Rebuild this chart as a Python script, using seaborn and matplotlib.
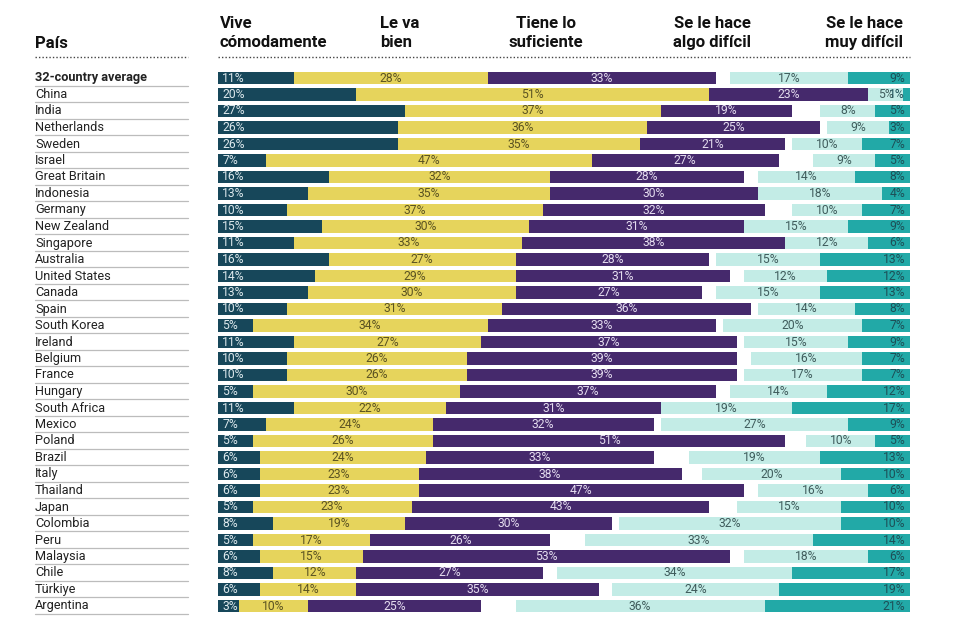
"""
Recreation: how people say they are coping financially, 32 countries.
"""
import matplotlib.pyplot as plt
import matplotlib.transforms as mtransforms
import pandas as pd
import seaborn as sns

countries = [
    "32-country average", "China", "India", "Netherlands", "Sweden", "Israel",
    "Great Britain", "Indonesia", "Germany", "New Zealand", "Singapore",
    "Australia", "United States", "Canada", "Spain", "South Korea", "Ireland",
    "Belgium", "France", "Hungary", "South Africa", "Mexico", "Poland",
    "Brazil", "Italy", "Thailand", "Japan", "Colombia", "Peru", "Malaysia",
    "Chile", "Türkiye", "Argentina",
]
comfortable = [11, 20, 27, 26, 26, 7, 16, 13, 10, 15, 11, 16, 14, 13, 10, 5, 11,
               10, 10, 5, 11, 7, 5, 6, 6, 6, 5, 8, 5, 6, 8, 6, 3]
doing_ok = [28, 51, 37, 36, 35, 47, 32, 35, 37, 30, 33, 27, 29, 30, 31, 34, 27,
            26, 26, 30, 22, 24, 26, 24, 23, 23, 23, 19, 17, 15, 12, 14, 10]
getting_by = [33, 23, 19, 25, 21, 27, 28, 30, 32, 31, 38, 28, 31, 27, 36, 33, 37,
              39, 39, 37, 31, 32, 51, 33, 38, 47, 43, 30, 26, 53, 27, 35, 25]
quite_hard = [17, 5, 8, 9, 10, 9, 14, 18, 10, 15, 12, 15, 12, 15, 14, 20, 15,
              16, 17, 14, 19, 27, 10, 19, 20, 16, 15, 32, 33, 18, 34, 24, 36]
very_hard = [9, 1, 5, 3, 7, 5, 8, 4, 7, 9, 6, 13, 12, 13, 8, 7, 9,
             7, 7, 12, 17, 9, 5, 13, 10, 6, 10, 10, 14, 6, 17, 19, 21]

headers = ["Vive\ncómodamente", "Le va\nbien", "Tiene lo\nsuficiente",
           "Se le hace\nalgo difícil", "Se le hace\nmuy difícil"]

colors = ["#17475a", "#e6d45c", "#45296c", "#c3ece6", "#22a9a7"]
label_colors = ["#dce8ec", "#5b5322", "#e4dcef", "#3f5c5c", "#1d4f57"]

sns.set_style("white")
plt.rcParams["font.family"] = ["Roboto", "DejaVu Sans"]

df = pd.DataFrame({
    "country": countries,
    "c1": comfortable,
    "c2": doing_ok,
    "c3": getting_by,
    "c4": quite_hard,
    "c5": very_hard,
})
df["left2"] = df["c1"] + df["c2"]
df["left3"] = df["left2"] + df["c3"]
df["right2"] = df["c4"] + df["c5"]
n = len(df)

fig = plt.figure(figsize=(9.6, 6.4), dpi=100)
rect = [218 / 960, 1 - 614.25 / 640, 692 / 960, 544.5 / 640]
ax = fig.add_axes(rect)
ax_r = fig.add_axes(rect)
ax_r.patch.set_alpha(0)

bar_kw = dict(y="country", orient="h", width=0.78, saturation=1,
              errorbar=None, linewidth=0)

# left-anchored segments: draw widest cumulative first
sns.barplot(data=df, x="left3", color=colors[2], ax=ax, **bar_kw)
sns.barplot(data=df, x="left2", color=colors[1], ax=ax, **bar_kw)
sns.barplot(data=df, x="c1", color=colors[0], ax=ax, **bar_kw)
ax.set_xlim(0, 100)

# right-anchored segments on a reversed x axis
sns.barplot(data=df, x="right2", color=colors[3], ax=ax_r, **bar_kw)
sns.barplot(data=df, x="c5", color=colors[4], ax=ax_r, **bar_kw)
ax_r.set_xlim(100, 0)

for a in (ax, ax_r):
    a.set_ylim(n - 0.5, -0.5)
    a.set_axis_off()

fs = 8.7
for i, r in df.iterrows():
    ax.text(0.6, i, f"{r.c1}%", ha="left", va="center", fontsize=fs, color=label_colors[0])
    ax.text(r.c1 + r.c2 / 2, i, f"{r.c2}%", ha="center", va="center", fontsize=fs, color=label_colors[1])
    ax.text(r.left2 + r.c3 / 2, i, f"{r.c3}%", ha="center", va="center", fontsize=fs, color=label_colors[2])
    ax_r.text(r.c5 + r.c4 / 2, i, f"{r.c4}%", ha="center", va="center", fontsize=fs, color=label_colors[3])
    ax_r.text(0.7, i, f"{r.c5}%", ha="right", va="center", fontsize=fs, color=label_colors[4])

# country names with thin rules under them
trans = mtransforms.blended_transform_factory(fig.transFigure, ax.transData)
for i, name in enumerate(countries):
    ax.text(35 / 960, i, name, transform=trans, ha="left", va="center",
            fontsize=9.2, color="#222222", fontweight="bold" if i == 0 else "normal")
    ax.plot([35 / 960, 188 / 960], [i + 0.47, i + 0.47], transform=trans,
            clip_on=False, color="#bcbcbc", lw=0.9)

# header
fig.text(35 / 960, 1 - 43 / 640, "País", ha="left", va="center",
         fontsize=12, fontweight="bold", color="#111111")
head_pos = [(220, "left"), (380, "left"), (546, "center"), (712, "center"), (903, "right")]
for (x, ha), h in zip(head_pos, headers):
    fig.text(x / 960, 1 - 33 / 640, h, ha=ha, va="center", multialignment=ha,
             fontsize=12, fontweight="bold", color="#111111", linespacing=1.4)

for x0, x1 in [(35, 188), (218, 910)]:
    fig.add_artist(plt.Line2D([x0 / 960, x1 / 960], [1 - 57 / 640] * 2,
                              transform=fig.transFigure, color="#444444",
                              lw=1, linestyle=(0, (1, 1.5))))

fig.savefig("out.png", dpi=100)
